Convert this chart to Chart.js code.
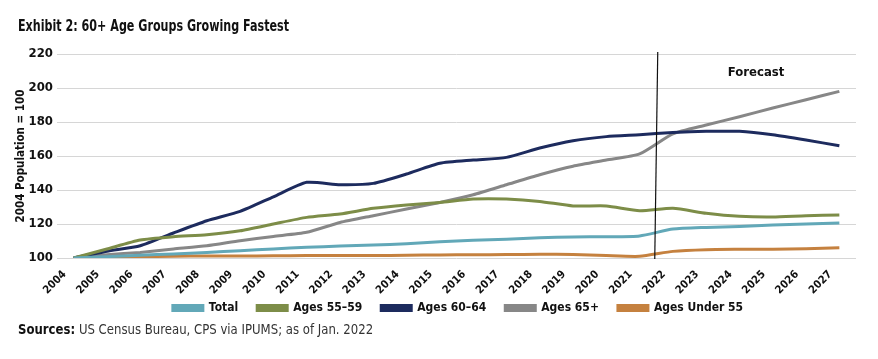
<!DOCTYPE html>
<html lang="en">
<head>
  <meta charset="UTF-8">
  <title>Exhibit 2: 60+ Age Groups Growing Fastest</title>
  <script src="https://cdn.jsdelivr.net/npm/chart.js"></script>
  <style>
    body { margin: 0; background: #fff; }
    .wrap { position: relative; width: 878px; height: 359px; font-family: 'Liberation Sans Narrow', 'DejaVu Sans Condensed', sans-serif; }
    .title { position: absolute; left: 18px; top: 16px; font-size: 16.5px; font-weight: bold; color: #111;
             transform: scaleX(0.75); transform-origin: left top; white-space: nowrap; }
    .sources { position: absolute; left: 18px; top: 321px; font-size: 14px; color: #333;
               transform: scaleX(0.93); transform-origin: left top; white-space: nowrap; }
    .sources b { color: #111; }
    canvas { position: absolute; left: 0; top: 0; }
  </style>
</head>
<body>
<div class="wrap">
  <canvas id="chart" width="878" height="359"></canvas>
  <div class="title">Exhibit 2: 60+ Age Groups Growing Fastest</div>
  <div class="sources"><b>Sources:</b> US Census Bureau, CPS via IPUMS; as of Jan. 2022</div>
</div>
<script>
  const years = ['2004','2005','2006','2007','2008','2009','2010','2011','2012','2013','2014','2015',
                 '2016','2017','2018','2019','2020','2021','2022','2023','2024','2025','2026','2027'];
  const total    = [100, 100.8, 101.6, 102.4, 103.3, 104.3, 105.3, 106.3, 107, 107.6, 108.4, 109.5,
                    110.4, 111.1, 111.9, 112.4, 112.5, 113, 117, 118, 118.6, 119.4, 120, 120.6];
  const ages5559 = [100, 105.3, 110.6, 112.5, 113.7, 116, 120, 123.9, 125.9, 129.2, 131.2, 132.7,
                    134.7, 134.7, 133.3, 130.6, 130.6, 127.8, 129.2, 126.3, 124.5, 124.1, 124.9, 125.3];
  const ages6064 = [100, 104, 107.2, 114.7, 121.9, 127.4, 136, 144.5, 143.1, 143.9, 149.4, 155.7,
                    157.6, 159.2, 164.7, 169, 171.4, 172.5, 173.8, 174.5, 174.5, 172.5, 169.4, 166];
  const ages65   = [100, 101.9, 103.3, 105.3, 107.2, 110.2, 112.7, 115.1, 120.9, 124.9, 128.8, 132.7,
                    137.2, 143.1, 149, 154, 157.6, 161.2, 173, 178.2, 183.1, 188.2, 193.1, 198];
  const under55  = [100, 100.5, 100.8, 101, 101.2, 101.2, 101.3, 101.4, 101.5, 101.5, 101.6, 101.8,
                    101.9, 102, 102.2, 102.1, 101.4, 101, 103.9, 104.9, 105.1, 105.2, 105.5, 106];
  const yTicks = [100, 120, 140, 160, 180, 200, 220];
  const forecastStart = 17.5;   // between 2021 and 2022
  const forecastLabel = 'Forecast';

  const FONT = "'Liberation Sans Narrow', 'DejaVu Sans Condensed', sans-serif";

  function series(label, data, color) {
    return {
      label: label, data: data,
      borderColor: color, backgroundColor: color,
      borderWidth: 3, pointRadius: 0, tension: 0.2, fill: false
    };
  }

  const forecastPlugin = {
    id: 'forecast',
    afterLayout(chart) {
      // legend in the original sits centred under the plot, not the page
      chart.legend.left += 30;
      chart.legend.right += 30;
      // x axis box is kept short, let its rotated labels run below it
      chart.scales.x.bottom += 30;
    },
    afterDatasetsDraw(chart) {
      const ctx = chart.ctx;
      const xs = chart.scales.x, ys = chart.scales.y;
      const x = xs.getPixelForValue(forecastStart);
      ctx.save();
      ctx.strokeStyle = '#111';
      ctx.lineWidth = 1.2;
      ctx.beginPath();
      ctx.moveTo(x + 1.5, chart.chartArea.top - 2);
      ctx.lineTo(x - 1.5, chart.chartArea.bottom + 1);
      ctx.stroke();
      ctx.fillStyle = '#111';
      ctx.font = 'bold 13px ' + FONT;
      ctx.textAlign = 'center';
      ctx.textBaseline = 'middle';
      ctx.fillText(forecastLabel, xs.getPixelForValue(20.5), ys.getPixelForValue(209));
      ctx.restore();
    }
  };

  new Chart(document.getElementById('chart'), {
    type: 'line',
    data: {
      labels: years,
      datasets: [
        series('Total', total, '#62a8b8'),
        series('Ages 55\u201359', ages5559, '#7d8d48'),
        series('Ages 60\u201364', ages6064, '#1d2b5e'),
        series('Ages 65+', ages65, '#878787'),
        series('Ages Under 55', under55, '#c5813f')
      ]
    },
    options: {
      responsive: false,
      animation: false,
      layout: { padding: { left: 0, right: 22, top: 54, bottom: 35 } },
      plugins: {
        tooltip: { enabled: false },
        legend: {
          position: 'bottom',
          labels: {
            boxWidth: 30, boxHeight: 5, padding: 19,
            color: '#111',
            font: { family: FONT, size: 12, weight: 'bold' }
          }
        }
      },
      scales: {
        x: {
          offset: true,
          grid: { display: false },
          border: { display: false },
          afterFit(scale) { scale.height = 25; },
          ticks: {
            autoSkip: false, maxRotation: 45, minRotation: 45,
            labelOffset: -9, padding: 2,
            color: '#111',
            font: { family: FONT, size: 11, weight: 'bold' }
          }
        },
        y: {
          min: 100, max: 220,
          afterFit(scale) { scale.width = 57; },
          afterBuildTicks(scale) { scale.ticks = yTicks.map(v => ({ value: v })); },
          grid: { color: '#d6d6d6', lineWidth: 1, drawTicks: false },
          border: { display: false },
          ticks: {
            padding: 4, color: '#111',
            font: { family: FONT, size: 13, weight: 'bold' }
          },
          title: {
            display: true, text: '2004 Population = 100',
            color: '#111', padding: { top: 14, bottom: 0 },
            font: { family: FONT, size: 11.5, weight: 'bold' }
          }
        }
      }
    },
    plugins: [forecastPlugin]
  });
</script>
</body>
</html>
